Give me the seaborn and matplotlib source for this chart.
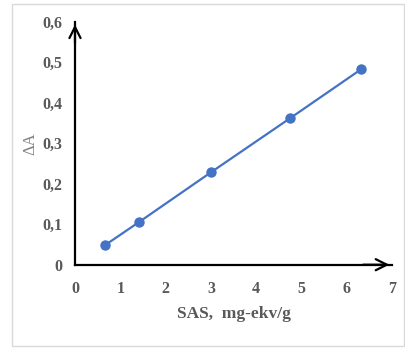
import matplotlib
matplotlib.use('Agg')
import matplotlib.pyplot as plt
import seaborn as sns
import pandas as pd
from matplotlib.patches import Rectangle

# values
sas = [0.66, 1.41, 3.0, 4.74, 6.31]
delta_a = [0.048, 0.105, 0.228, 0.361, 0.482]
x_ticks = [0, 1, 2, 3, 4, 5, 6, 7]
y_ticks = [0, 0.1, 0.2, 0.3, 0.4, 0.5, 0.6]
y_labels = ['0', '0,1', '0,2', '0,3', '0,4', '0,5', '0,6']

sns.set_theme(style='white')
plt.rcParams['font.family'] = ['Liberation Serif', 'DejaVu Serif']

GREY = '#595959'
BLUE = '#4472C4'

df = pd.DataFrame({'SAS': sas, 'dA': delta_a})

fig = plt.figure(figsize=(4.06, 3.5), dpi=100)
ax = fig.add_axes([0.1847, 0.2437, 0.781, 0.6943])

sns.lineplot(data=df, x='SAS', y='dA', ax=ax, color=BLUE, lw=1.6,
             marker='o', markersize=7.5, markeredgewidth=0, markerfacecolor=BLUE)

ax.set_xlim(0, 7)
ax.set_ylim(0, 0.6)
ax.set_xticks(x_ticks)
ax.set_yticks(y_ticks)
ax.set_yticklabels(y_labels)

for s in ['top', 'right']:
    ax.spines[s].set_visible(False)
for s in ['left', 'bottom']:
    ax.spines[s].set_color('black')
    ax.spines[s].set_linewidth(1.6)

ax.tick_params(axis='both', direction='in', length=4, width=1.2, color='black',
               labelsize=11.5, labelcolor=GREY)
ax.tick_params(axis='x', pad=12)
ax.tick_params(axis='y', pad=9)
for lbl in ax.get_xticklabels() + ax.get_yticklabels():
    lbl.set_fontweight('bold')

# arrow heads at the ends of the axes
arrow = dict(arrowstyle='->', lw=1.6, color='black', mutation_scale=20)
ax.annotate('', xy=(1.0, 0), xytext=(0.9, 0), xycoords='axes fraction',
            arrowprops=arrow, annotation_clip=False)
ax.annotate('', xy=(0, 1.0), xytext=(0, 0.9), xycoords='axes fraction',
            arrowprops=arrow, annotation_clip=False)

ax.set_xlabel('SAS,  mg-ekv/g', fontsize=12.5, fontweight='bold', color=GREY, labelpad=6)
ax.set_ylabel('ΔA', fontsize=12, color='#7f7f7f', labelpad=3)

# light grey frame around the whole chart
fig.patches.append(Rectangle((12 / 406, 4 / 350), 392 / 406, 342 / 350,
                             transform=fig.transFigure, fill=False,
                             edgecolor='#d9d9d9', lw=1))

fig.savefig('out.png', dpi=100)
